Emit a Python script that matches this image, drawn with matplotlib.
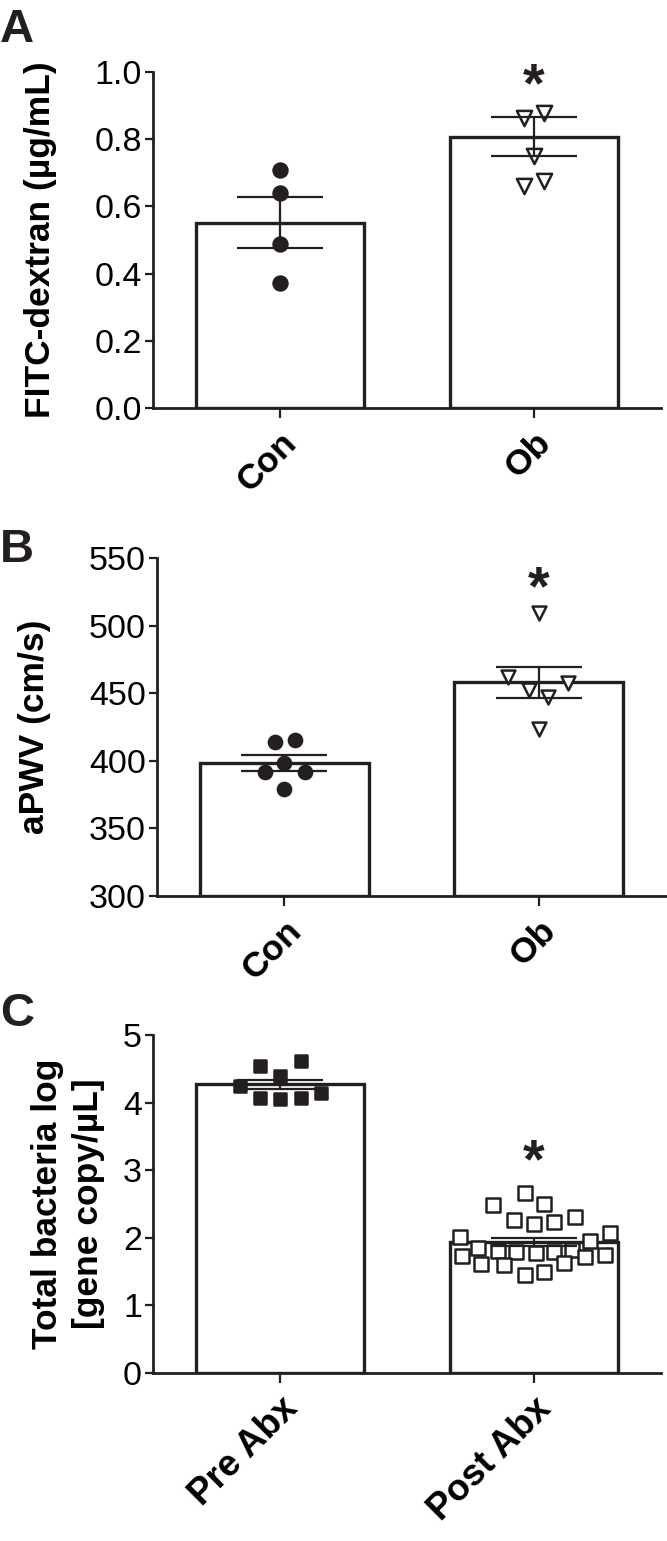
import matplotlib
matplotlib.use("Agg")
import matplotlib.pyplot as plt
import numpy as np

plt.rcParams['font.family'] = ['Liberation Sans', 'DejaVu Sans']

# ---------------- data ----------------
# Panel A
A_groups = ["Con", "Ob"]
A_means = [0.552, 0.808]
A_sem = [0.076, 0.057]
A_con = [0.709, 0.641, 0.487, 0.371]
A_con_dx = [0.0, 0.0, 0.0, 0.0]
A_ob = [0.864, 0.878, 0.751, 0.662, 0.677]
A_ob_dx = [-0.04, 0.04, 0.0, -0.04, 0.04]
A_yticks = [0.0, 0.2, 0.4, 0.6, 0.8, 1.0]
A_ylabel = "FITC-dextran (µg/mL)"

# Panel B
B_groups = ["Con", "Ob"]
B_means = [398.5, 458.0]
B_sem = [5.9, 11.5]
B_con = [414, 415.5, 398.5, 392, 392, 379]
B_con_dx = [-0.037, 0.041, 0.0, -0.077, 0.081, 0.0]
B_ob = [509.6, 462, 452.6, 447.4, 457.8, 423.7]
B_ob_dx = [0.0, -0.12, -0.04, 0.037, 0.116, 0.0]
B_yticks = [300, 350, 400, 450, 500, 550]
B_ylabel = "aPWV (cm/s)"

# Panel C
C_groups = ["Pre Abx", "Post Abx"]
C_means = [4.27, 1.94]
C_sem = [0.065, 0.06]
C_pre = [4.54, 4.62, 4.39, 4.25, 4.07, 4.05, 4.07, 4.14]
C_pre_dx = [-0.079, 0.083, 0.0, -0.157, -0.079, 0.0, 0.083, 0.161]
C_post = [2.66, 2.49, 2.50, 2.26, 2.20, 2.23, 2.31, 2.01, 2.07, 1.95,
          1.85, 1.80, 1.79, 1.78, 1.79, 1.82, 1.73, 1.72, 1.75,
          1.61, 1.60, 1.63, 1.45, 1.49]
C_post_dx = [-0.037, -0.16, 0.041, -0.077, 0.0, 0.08, 0.16, -0.29, 0.30, 0.22,
             -0.22, -0.14, -0.07, 0.006, 0.08, 0.15, -0.285, 0.2, 0.28,
             -0.21, -0.12, 0.12, -0.037, 0.041]
C_yticks = [0, 1, 2, 3, 4, 5]
C_ylabel = "Total bacteria log\n[gene copy/µL]"

star_y = [0.955, 526, 3.1]

# ---------------- drawing ----------------
fig = plt.figure(figsize=(6.67, 15.41), dpi=100)
W, H = 667.0, 1541.0


def add_axes(left, right, bottom, top):
    return fig.add_axes([left / W, 1 - bottom / H, (right - left) / W, (bottom - top) / H])


def panel(ax, groups, means, sem, pts1, dx1, pts2, dx2, yticks, ylabel,
          m1, m2, ms1, ms2, fill1, fill2, baseline, star, labelpad, xfs):
    x = np.arange(len(groups))
    ax.bar(x, np.array(means) - baseline, bottom=baseline, width=0.665,
           color='white', edgecolor='#231f20', linewidth=2.4, zorder=1)
    ax.scatter(x[0] + np.array(dx1), pts1, marker=m1, s=ms1,
               facecolor=fill1, edgecolor='#231f20', linewidths=1.8, zorder=3)
    ax.scatter(x[1] + np.array(dx2), pts2, marker=m2, s=ms2,
               facecolor=fill2, edgecolor='#231f20', linewidths=1.8, zorder=3)
    ax.errorbar(x, means, yerr=sem, fmt='none', ecolor='#231f20',
                elinewidth=1.6, capsize=31, capthick=1.6, zorder=4)
    ax.set_xlim(-0.5, 1.5)
    ax.set_ylim(yticks[0], yticks[-1])
    ax.set_yticks(yticks)
    ax.set_xticks(x)
    ax.set_xticklabels(groups, rotation=45, ha='right', va='top',
                       rotation_mode='anchor', fontsize=xfs, fontweight='bold')
    for sp in ['top', 'right']:
        ax.spines[sp].set_visible(False)
    for sp in ['left', 'bottom']:
        ax.spines[sp].set_linewidth(2.0)
        ax.spines[sp].set_color('#231f20')
    ax.tick_params(axis='y', length=6, width=1.6, labelsize=24.5, pad=2, color='#231f20')
    ax.tick_params(axis='x', length=7, width=1.6, pad=6, color='#231f20')
    ax.set_ylabel(ylabel, fontsize=25.5, fontweight='bold', labelpad=labelpad,
                  linespacing=1.3)
    ax.text(1, star, '*', ha='center', va='center', fontsize=40,
            fontweight='bold', color='#231f20')


axA = add_axes(153, 661, 408, 72)
panel(axA, A_groups, A_means, A_sem, A_con, A_con_dx, A_ob, A_ob_dx,
      A_yticks, A_ylabel, 'o', 'v', 100, 120, '#231f20', 'white', 0, star_y[0], 27, 25.5)
axA.set_yticklabels([f"{v:.1f}" for v in A_yticks])

axB = add_axes(157, 666, 896, 558)
panel(axB, B_groups, B_means, B_sem, B_con, B_con_dx, B_ob, B_ob_dx,
      B_yticks, B_ylabel, 'o', 'v', 90, 100, '#231f20', 'white', 300, star_y[1], 27, 25.5)

axC = add_axes(153, 661, 1373, 1035)
panel(axC, C_groups, C_means, C_sem, C_pre, C_pre_dx, C_post, C_post_dx,
      C_yticks, C_ylabel, 's', 's', 85, 95, '#231f20', 'white', 0, star_y[2], 13, 26.5)

for lab, yy in [("A", 8), ("B", 528), ("C", 992)]:
    fig.text(0.0 / W, 1 - yy / H, lab, fontsize=34, fontweight='bold',
             ha='left', va='top', color='#231f20')

fig.savefig("out.png", dpi=100)
